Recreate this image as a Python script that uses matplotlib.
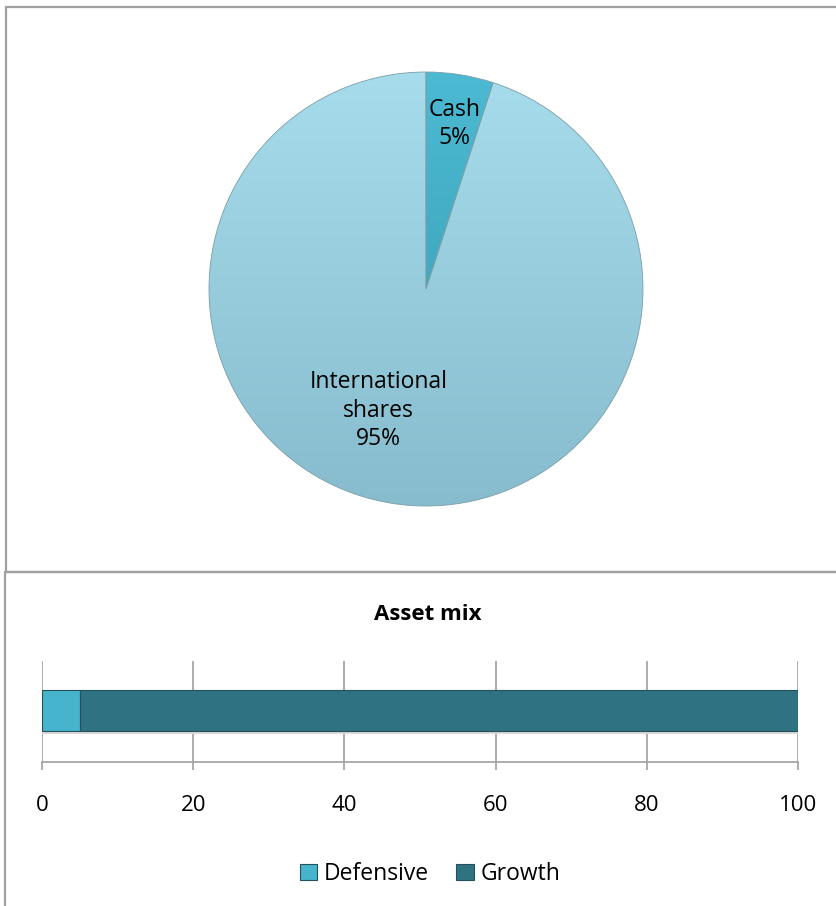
import numpy as np
import matplotlib.pyplot as plt
from matplotlib.patches import Rectangle
from matplotlib.colors import LinearSegmentedColormap

plt.rcParams['font.family'] = ['Open Sans', 'DejaVu Sans']

# pie data
pie_labels = ["Cash", "International\nshares"]
pie_values = [5, 95]
pie_top = ["#4cbad3", "#a6dceb"]
pie_bottom = ["#3597ae", "#86bccd"]

# bar data
bar_series = ["Defensive", "Growth"]
bar_values = [5, 95]
bar_colors = ["#45b4cc", "#2f7281"]
x_ticks = [0, 20, 40, 60, 80, 100]

W, H = 837, 906
fig = plt.figure(figsize=(W / 100, H / 100), dpi=100)

# panel borders (pixel coords -> figure fraction)
def box(x0, y0, x1, y1):
    fig.patches.append(Rectangle((x0 / W, 1 - y1 / H), (x1 - x0) / W, (y1 - y0) / H,
                                 transform=fig.transFigure, fill=False,
                                 edgecolor="#a0a0a0", lw=1.6))
box(6, 7, 845, 572)
box(5, 572, 845, 910)

# ---- pie ----
cx, cy, r = 426, 289, 217
ax = fig.add_axes([(cx - r) / W, 1 - (cy + r) / H, 2 * r / W, 2 * r / H])
wedges, _ = ax.pie(pie_values, startangle=90, counterclock=False,
                   colors=pie_top, wedgeprops=dict(edgecolor="#7b9ea8", lw=0.6))
ax.set_xlim(-1, 1)
ax.set_ylim(-1, 1)
ax.set_aspect("equal")
ax.axis("off")

# simple vertical gradient inside each wedge
grad = np.linspace(0, 1, 256).reshape(-1, 1)
for w, c0, c1 in zip(wedges, pie_top, pie_bottom):
    cmap = LinearSegmentedColormap.from_list("g", [c1, c0])
    im = ax.imshow(grad, extent=(-1, 1, -1, 1), origin="lower", cmap=cmap,
                   aspect="auto", zorder=w.get_zorder() + 0.1)
    im.set_clip_path(w)
    w.set_facecolor("none")
    w.set_zorder(w.get_zorder() + 0.2)

# labels
label_pos = [(0.13, 0.76), (-0.22, -0.56)]
for lab, v, (lx, ly) in zip(pie_labels, pie_values, label_pos):
    ax.text(lx, ly, f"{lab}\n{v}%", ha="center", va="center", fontsize=16.5,
            linespacing=1.25, zorder=10)

# ---- bar ----
bx = fig.add_axes([42 / W, 1 - 762 / H, (798 - 42) / W, (762 - 661) / H])
left = 0
for name, v, c in zip(bar_series, bar_values, bar_colors):
    # soft shadow
    bx.barh(-0.01, v, left=left, height=0.42, color="#d9d9d9", zorder=2)
    bx.barh(0.01, v, left=left, height=0.40, color=c, label=name, zorder=3,
            edgecolor="#23525d", lw=0.8)
    left += v
bx.set_xlim(0, 100)
bx.set_ylim(-0.5, 0.5)
bx.set_yticks([])
bx.set_xticks(x_ticks)
bx.grid(axis="x", color="#a0a0a0", lw=1.2, zorder=0)
for s in ["top", "right", "left"]:
    bx.spines[s].set_visible(False)
bx.spines["bottom"].set_color("#a0a0a0")
bx.spines["bottom"].set_linewidth(1.2)
bx.tick_params(axis="x", length=6, width=1.2, color="#a0a0a0", labelsize=16, pad=18)

fig.text(428 / W, 1 - 614 / H, "Asset mix", ha="center", va="center",
         fontsize=16, fontweight="bold")

fig.legend(loc="center", bbox_to_anchor=(430 / W, 1 - 874 / H), ncol=2,
           frameon=False, fontsize=16.5, handlelength=0.75, handleheight=0.75,
           handletextpad=0.3, columnspacing=1.2)

fig.savefig("out.png", dpi=100)
